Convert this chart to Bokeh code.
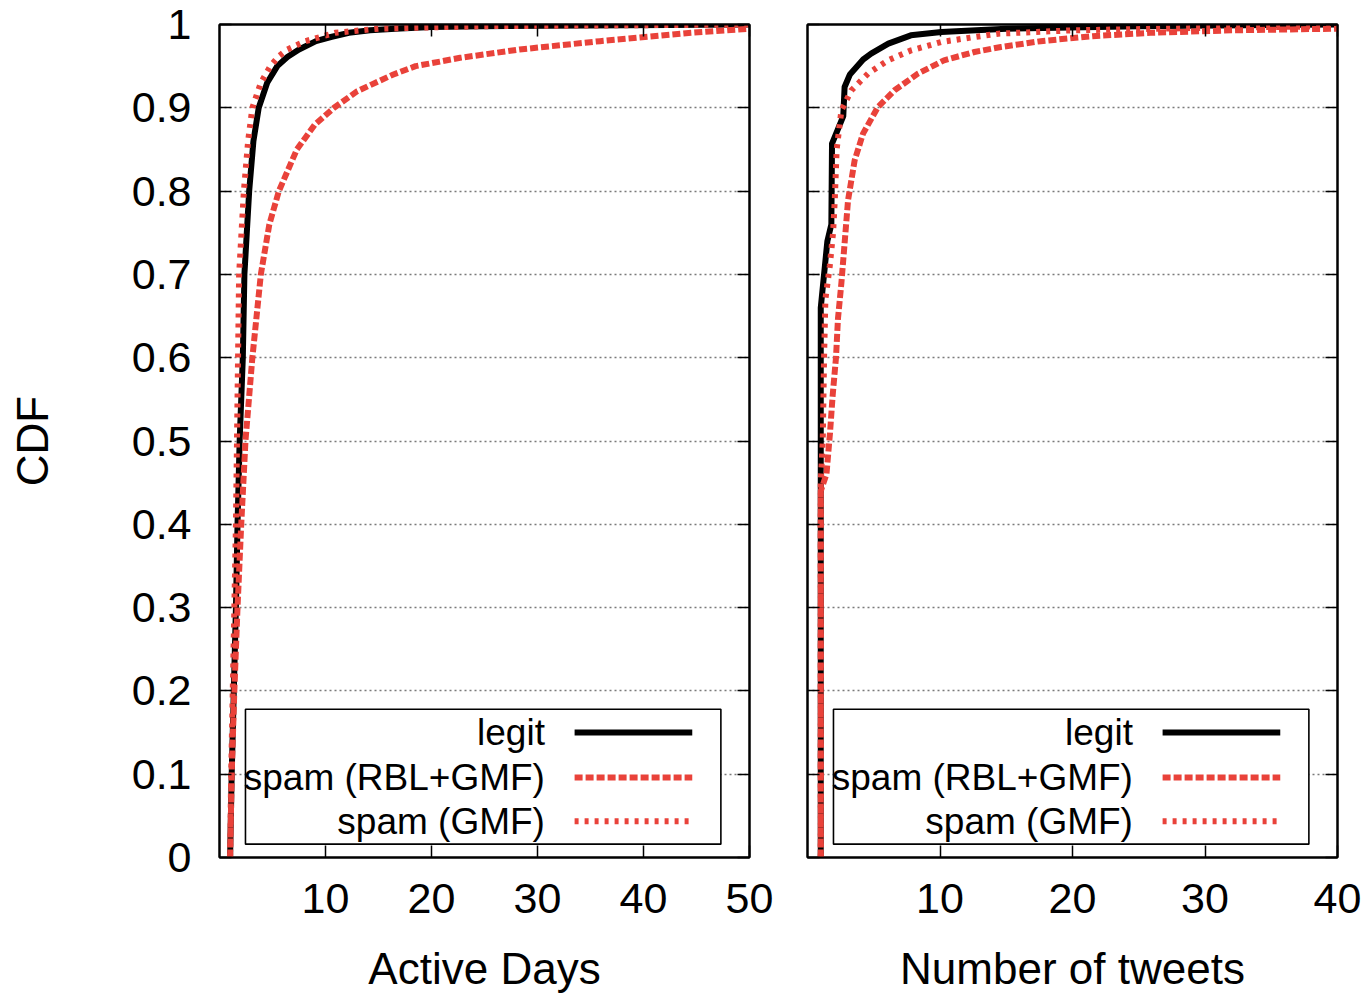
from bokeh.plotting import figure
from bokeh.models import (FixedTicker, LinearAxis, Range1d, BoxAnnotation, Label,
                          CustomJSTickFormatter)
from bokeh.layouts import row
from bokeh.embed import file_html
from bokeh.resources import INLINE

FONT = "Liberation Sans"
RED = "#e9423a"

# ---------------- data ----------------
cdf_ticks = [0, 0.1, 0.2, 0.3, 0.4, 0.5, 0.6, 0.7, 0.8, 0.9, 1.0]

# Panel 1: Active Days
days_ticks = [10, 20, 30, 40, 50]
days_legit_x = [1, 1.15, 1.35, 1.55, 1.7, 1.9, 2.2, 2.35, 2.8, 3.2, 3.7, 4.5, 5.45, 6.4, 7.5, 9.1, 10.5, 12.2, 14.2, 16.6, 20, 25, 50]
days_legit_y = [0, 0.1, 0.2, 0.3, 0.4, 0.5, 0.6, 0.7, 0.8, 0.86, 0.9, 0.93, 0.95, 0.961, 0.97, 0.98, 0.985, 0.99, 0.993, 0.995, 0.997, 0.998, 1.0]
days_rbl_x = [1, 1.15, 1.4, 1.7, 2.05, 2.45, 3.1, 3.9, 4.7, 5.6, 7.3, 9.0, 10.8, 13, 16.4, 18.5, 22.7, 28.3, 35.9, 44.5, 50]
days_rbl_y = [0, 0.1, 0.2, 0.3, 0.4, 0.5, 0.6, 0.7, 0.76, 0.8, 0.85, 0.88, 0.9, 0.92, 0.94, 0.95, 0.96, 0.97, 0.98, 0.99, 0.995]
days_gmf_x = [1, 1.1, 1.25, 1.4, 1.55, 1.65, 1.75, 1.85, 2.3, 2.7, 3.1, 3.9, 4.8, 5.6, 6.4, 8.1, 10.9, 15, 25, 50]
days_gmf_y = [0, 0.1, 0.2, 0.3, 0.4, 0.5, 0.6, 0.7, 0.8, 0.86, 0.9, 0.93, 0.95, 0.962, 0.97, 0.98, 0.99, 0.995, 0.998, 1.0]

# Panel 2: Number of tweets
tweets_ticks = [10, 20, 30, 40]
tweets_legit_x = [1, 1, 1.5, 1.8, 1.85, 2.7, 2.8, 3.2, 3.7, 4.2, 4.8, 6.1, 7.8, 10.1, 15, 25, 40]
tweets_legit_y = [0, 0.66, 0.74, 0.76, 0.857, 0.89, 0.925, 0.94, 0.949, 0.958, 0.965, 0.977, 0.987, 0.991, 0.995, 0.998, 1.0]
tweets_rbl_x = [1, 1, 1.43, 1.7, 1.9, 2.15, 2.3, 2.56, 3.06, 3.56, 4.19, 5.32, 6.57, 8.33, 10.3, 12.6, 14.6, 17.6, 21.5, 25.9, 32, 40]
tweets_rbl_y = [0, 0.44, 0.46, 0.51, 0.555, 0.6, 0.647, 0.69, 0.789, 0.837, 0.869, 0.901, 0.921, 0.941, 0.957, 0.967, 0.973, 0.98, 0.986, 0.99, 0.993, 0.995]
tweets_gmf_x = [1, 1, 1.15, 1.25, 1.35, 1.68, 1.93, 2.06, 2.2, 2.56, 3.31, 4.57, 6.08, 7.83, 10.1, 12.6, 14.4, 20, 30, 40]
tweets_gmf_y = [0, 0.45, 0.5, 0.6, 0.67, 0.71, 0.75, 0.79, 0.85, 0.897, 0.921, 0.941, 0.957, 0.969, 0.979, 0.985, 0.989, 0.993, 0.996, 0.998]

series_names = ["legit", "spam (RBL+GMF)", "spam (GMF)"]
series_colors = ["black", RED, RED]
series_dash = ["solid", "8 3", "4 6"]
series_width = [6, 6, 6]

TICK_FS = "43px"
LABEL_FS = "44px"
LEGEND_FS = "37px"


def style_axis(ax, labels=True):
    ax.major_tick_in = 12
    ax.major_tick_out = 0
    ax.minor_tick_line_color = None
    ax.axis_line_width = 2
    ax.axis_line_color = "black"
    ax.major_tick_line_width = 1.5
    ax.major_tick_line_color = "black"
    if labels:
        ax.major_label_text_font = FONT
        ax.major_label_text_font_size = TICK_FS
        ax.major_label_text_color = "black"
    else:
        ax.formatter = CustomJSTickFormatter(code="return ''")
        ax.major_label_text_font_size = "1px"
        ax.major_label_standoff = 0


def make_panel(xmax, xticks, xlabel, xs, ys, show_ylabels, border_left, border_right):
    p = figure(frame_width=530, frame_height=833,
               x_range=Range1d(0, xmax), y_range=Range1d(0, 1),
               output_backend="svg", toolbar_location=None,
               min_border_left=border_left, min_border_right=border_right,
               min_border_top=24, min_border_bottom=10)
    p.background_fill_color = "white"
    p.border_fill_color = "white"
    p.outline_line_color = "black"
    p.outline_line_width = 2

    ycb = CustomJSTickFormatter(code="return (Math.round(tick*10)/10).toString();")

    # bottom axis
    xa = p.xaxis[0]
    xa.ticker = FixedTicker(ticks=xticks)
    style_axis(xa)
    xa.major_label_standoff = 26
    xa.axis_label = xlabel
    xa.axis_label_text_font = FONT
    xa.axis_label_text_font_size = LABEL_FS
    xa.axis_label_text_font_style = "normal"
    xa.axis_label_text_color = "black"
    xa.axis_label_standoff = 28

    # left axis
    ya = p.yaxis[0]
    ya.ticker = FixedTicker(ticks=cdf_ticks)
    if show_ylabels:
        style_axis(ya)
        ya.formatter = ycb
        ya.major_label_standoff = 28
        ya.axis_label = "CDF"
        ya.axis_label_text_font = FONT
        ya.axis_label_text_font_size = LABEL_FS
        ya.axis_label_text_font_style = "normal"
        ya.axis_label_text_color = "black"
        ya.axis_label_standoff = 72
    else:
        style_axis(ya, labels=False)

    # mirror axes
    top = LinearAxis(ticker=FixedTicker(ticks=xticks))
    style_axis(top, labels=False)
    p.add_layout(top, "above")
    right = LinearAxis(ticker=FixedTicker(ticks=cdf_ticks))
    style_axis(right, labels=False)
    p.add_layout(right, "right")

    # grid
    p.xgrid.grid_line_color = None
    p.ygrid.ticker = FixedTicker(ticks=cdf_ticks)
    p.ygrid.grid_line_color = "#7a7a7a"
    p.ygrid.grid_line_dash = "2 3"
    p.ygrid.grid_line_width = 1.3

    # legend box (gnuplot style: text then sample)
    box = BoxAnnotation(left=0.049 * xmax, right=0.946 * xmax, bottom=0.016, top=0.178,
                        fill_color="white", fill_alpha=1.0,
                        line_color="black", line_alpha=1.0, line_width=1.6,
                        level="underlay")
    p.add_layout(box)

    row_y = [0.150, 0.096, 0.0435]
    for name, col, dash, w, ry in zip(series_names, series_colors, series_dash, series_width, row_y):
        p.add_layout(Label(x=0.614 * xmax, y=ry, text=name, text_align="right",
                           text_baseline="middle", text_font=FONT,
                           text_font_size=LEGEND_FS, text_color="black"))
        p.line([0.670 * xmax, 0.892 * xmax], [ry, ry], line_color=col,
               line_dash=dash, line_width=w)

    # curves
    for x, y, col, dash, w in zip(xs, ys, series_colors, series_dash, series_width):
        p.line(x, y, line_color=col, line_dash=dash, line_width=w, line_join="round")
    return p


p1 = make_panel(50, days_ticks, "Active Days",
                [days_legit_x, days_rbl_x, days_gmf_x],
                [days_legit_y, days_rbl_y, days_gmf_y],
                True, 219, 29)
p2 = make_panel(40, tweets_ticks, "Number of tweets",
                [tweets_legit_x, tweets_rbl_x, tweets_gmf_x],
                [tweets_legit_y, tweets_rbl_y, tweets_gmf_y],
                False, 29, 28)

layout = row(p1, p2)
open("out.html", "w").write(file_html(layout, INLINE))
